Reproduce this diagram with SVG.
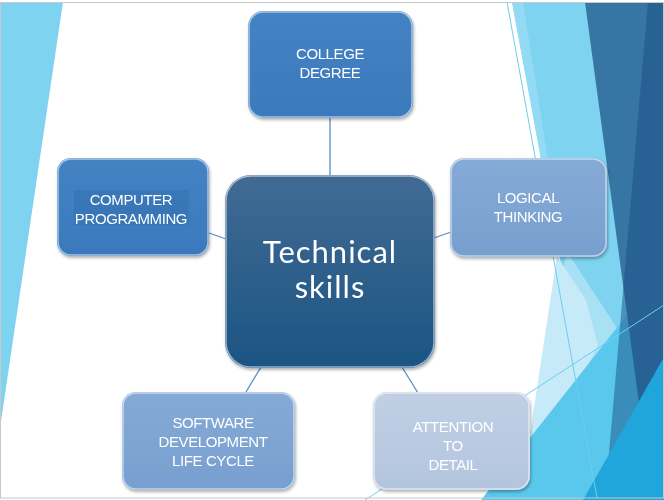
<svg xmlns="http://www.w3.org/2000/svg" width="664" height="500" viewBox="0 0 664 500">
  <defs>
    <style>
      .lbl { font-family: "Liberation Sans", Arial, sans-serif; font-size: 15px; letter-spacing: -0.4px; fill: #ffffff; text-anchor: middle; }
      .big { font-family: Lato, "Open Sans", sans-serif; font-size: 31px; letter-spacing: 1px; fill: #ffffff; text-anchor: middle; }
      .edge { stroke: #5a8ec6; stroke-width: 1.3; fill: none; }
      .rim { fill: none; stroke: #ffffff; stroke-opacity: 0.55; stroke-width: 1.5; }
      .thin { stroke: #6ecdee; stroke-width: 1; fill: none; }
    </style>
    <linearGradient id="gDark" x1="0" y1="0" x2="0" y2="1">
      <stop offset="0" stop-color="#416b94"/>
      <stop offset="1" stop-color="#1c5483"/>
    </linearGradient>
    <linearGradient id="gBlue" x1="0" y1="0" x2="0" y2="1">
      <stop offset="0" stop-color="#4483c4"/>
      <stop offset="1" stop-color="#3a79bb"/>
    </linearGradient>
    <linearGradient id="gMid" x1="0" y1="0" x2="0" y2="1">
      <stop offset="0" stop-color="#86aad6"/>
      <stop offset="1" stop-color="#779fcf"/>
    </linearGradient>
    <linearGradient id="gPale" x1="0" y1="0" x2="0" y2="1">
      <stop offset="0" stop-color="#c0cfe4"/>
      <stop offset="1" stop-color="#b3c5de"/>
    </linearGradient>
    <filter id="shadow" x="-10%" y="-10%" width="120%" height="125%">
      <feDropShadow dx="1" dy="2" stdDeviation="1.5" flood-color="#000000" flood-opacity="0.3"/>
    </filter>
  </defs>

  <!-- slide background -->
  <rect x="0" y="0" width="664" height="500" fill="#ffffff"/>
  <g id="background">
    <polygon points="0,2 63,2 0,428" fill="#7dd3f0"/>
    <polygon points="512,2 664,2 664,500 605,500" fill="#7dd3f0"/>
    <polygon points="512,2 523,2 548,160 541,160" fill="#93dbf4"/>
    <polygon points="566,250 628,345 540,480" fill="#a8e0f4"/>
    <polygon points="557,256 586,300 598,345 520,500" fill="#c6eaf7"/>
    <polygon points="481,500 664,268 664,500" fill="#5ac8ec"/>
    <polygon points="585,2 664,2 664,500 652,500" fill="#3675a4"/>
    <polygon points="648,2 664,2 664,500 605,500" fill="#1a4f85" fill-opacity="0.5"/>
    <polygon points="583,500 664,357 664,500" fill="#21a6db"/>
    <line class="thin" x1="507" y1="2" x2="597" y2="498"/>
    <line class="thin" x1="365" y1="500" x2="664" y2="305"/>
  </g>

  <!-- connectors -->
  <g id="connectors">
    <line class="edge" x1="330" y1="118" x2="330" y2="176"/>
    <line class="edge" x1="209" y1="233" x2="226" y2="239"/>
    <line class="edge" x1="434" y1="238" x2="451" y2="232"/>
    <line class="edge" x1="261" y1="367" x2="246" y2="392"/>
    <line class="edge" x1="402" y1="367" x2="418" y2="393"/>
  </g>

  <!-- nodes -->
  <g id="node-college" filter="url(#shadow)">
    <rect x="248" y="11" width="165" height="107" rx="15" fill="url(#gBlue)"/>
    <rect class="rim" x="249" y="12" width="163" height="105" rx="14"/>
    <text class="lbl" x="330" y="59">COLLEGE</text>
    <text class="lbl" x="330" y="78">DEGREE</text>
  </g>

  <g id="node-computer" filter="url(#shadow)">
    <rect x="57" y="158" width="152" height="98" rx="14" fill="url(#gBlue)"/>
    <rect class="rim" x="58" y="159" width="150" height="96" rx="13"/>
    <rect x="74" y="190" width="115" height="35" fill="#3371b3" fill-opacity="0.6"/>
    <text class="lbl" x="131" y="205">COMPUTER</text>
    <text class="lbl" x="131" y="224">PROGRAMMING</text>
  </g>

  <g id="node-logical" filter="url(#shadow)">
    <rect x="450" y="158" width="157" height="99" rx="14" fill="url(#gMid)"/>
    <rect class="rim" x="451" y="159" width="155" height="97" rx="13"/>
    <text class="lbl" x="528" y="203">LOGICAL</text>
    <text class="lbl" x="528" y="222">THINKING</text>
  </g>

  <g id="node-center" filter="url(#shadow)">
    <rect x="225" y="175" width="210" height="193" rx="26" fill="url(#gDark)"/>
    <rect class="rim" x="226" y="176" width="208" height="191" rx="25" stroke-opacity="0.35"/>
    <text class="big" x="330" y="263">Technical</text>
    <text class="big" x="330" y="298">skills</text>
  </g>

  <g id="node-sdlc" filter="url(#shadow)">
    <rect x="122" y="392" width="173" height="98" rx="14" fill="url(#gMid)"/>
    <rect class="rim" x="123" y="393" width="171" height="96" rx="13"/>
    <text class="lbl" x="213" y="428">SOFTWARE</text>
    <text class="lbl" x="213" y="447">DEVELOPMENT</text>
    <text class="lbl" x="213" y="466">LIFE CYCLE</text>
  </g>

  <g id="node-attention" filter="url(#shadow)">
    <rect x="373" y="392" width="157" height="98" rx="14" fill="url(#gPale)"/>
    <rect class="rim" x="374" y="393" width="155" height="96" rx="13"/>
    <text class="lbl" x="453" y="432">ATTENTION</text>
    <text class="lbl" x="453" y="451">TO</text>
    <text class="lbl" x="453" y="470">DETAIL</text>
  </g>

  <!-- slide frame -->
  <rect x="0.5" y="2.5" width="663" height="495.5" fill="none" stroke="#c8c8c8" stroke-width="1"/>
</svg>
